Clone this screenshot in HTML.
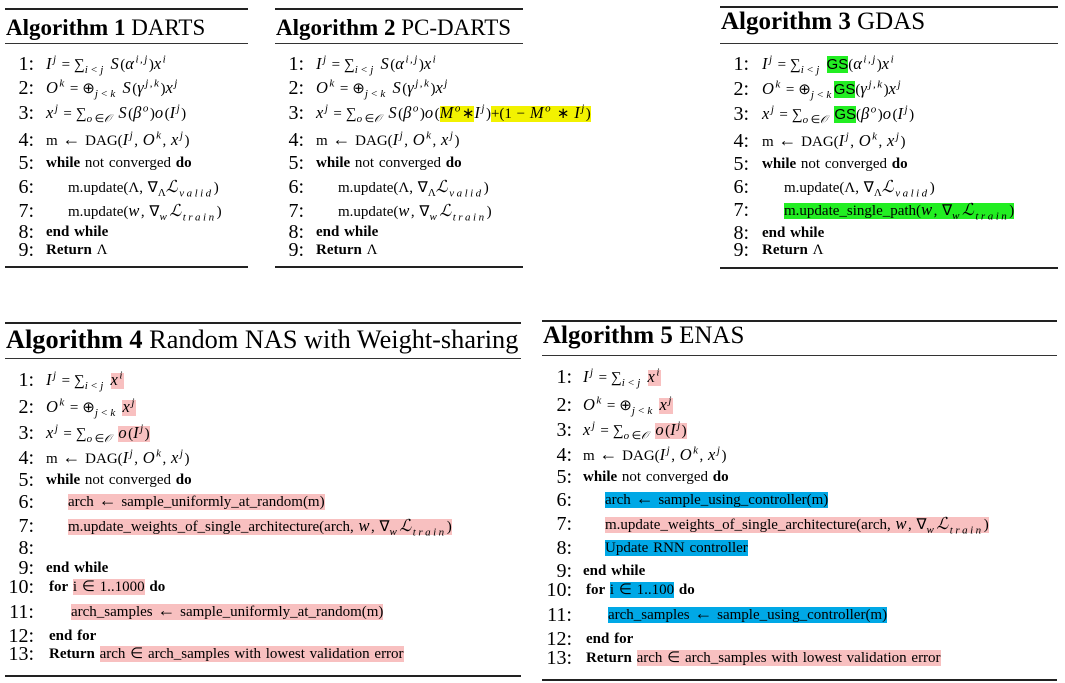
<!DOCTYPE html>
<html><head><meta charset="utf-8">
<style>
body{margin:0;width:1065px;height:683px;background:#fff;position:relative;overflow:hidden;font-family:"Liberation Serif",serif;color:#000}
.rule{position:absolute;height:0;border-top:2px solid #222}
.rule.thin{border-top:1px solid #333}
.title{position:absolute;font-size:23px;line-height:26px;white-space:nowrap}
.ln{position:absolute;font-size:15px;line-height:20px;white-space:nowrap;word-spacing:1px}
.num{position:absolute;font-size:20px;line-height:20px;text-align:right;width:34px}
i{font-style:italic;font-size:16.5px;letter-spacing:1.5px}
sub,sup{font-size:11px;line-height:0}
sub i,sup i{font-size:11px;letter-spacing:2.5px}
.ar{font-size:18px;line-height:0}
.eq{padding:0 4px}
.pk{background:#f8c0c0}.yl{background:#f2f200}.gr{background:#22ee22}.bl{background:#00a8e6}
</style></head><body>
<script>
const boxes=[
 {x:5,w:243,top:8,tt:28,r2:43,bot:266,title:'DARTS',tf:23,n:1,numX:0,txtX:46,ys:[64,88,113,140,163,187,211,232,250]},
 {x:275,w:248,top:8,tt:28,r2:43,bot:266,title:'PC-DARTS',tf:23,n:2,numX:270,txtX:316,ys:[64,88,113,140,163,187,211,232,250]},
 {x:720,w:338,top:6,tt:22,r2:43,bot:267,title:'GDAS',tf:25,n:3,numX:715,txtX:762,ys:[64,89,114,141,164,187,210,233,250]},
 {x:5,w:516,top:322,tt:340,r2:358,bot:675,title:'Random NAS with Weight-sharing',tf:26.3,n:4,numX:0,txtX:46,ys:[380,407,433,458,480,502,526,548,568,587,612,636,654]},
 {x:542,w:515,top:320,tt:336,r2:355,bot:679,title:'ENAS',tf:25,n:5,numX:538,txtX:583,ys:[377,405,430,455,477,500,524,548,571,590,615,639,658]}
];
const EQ='<span class="eq">=</span>';
const AR='<span class="ar">&larr;</span>';
const S='<i>I<sup>j</sup></i>'+EQ+'&sum;<sub><i>i&lt;j</i></sub> ';
const O='<i>O<sup>k</sup></i>'+EQ+'&oplus;<sub><i>j&lt;k</i></sub>';
const X='<i>x<sup>j</sup></i>'+EQ+'&sum;<sub><i>o</i>&isin;<i>&Oscr;</i></sub> ';
const DAG='m '+AR+' DAG(<i>I<sup>j</sup></i>, <i>O<sup>k</sup></i>, <i>x<sup>j</sup></i>)';
const WH='<b>while</b> not converged <b>do</b>';
const UV='m.update(&Lambda;, &nabla;<sub>&Lambda;</sub><i>&Lscr;<sub><i>valid</i></sub></i>)';
const UT='m.update(<i>w</i>, &nabla;<sub><i>w</i></sub><i>&Lscr;<sub><i>train</i></sub></i>)';
const UW='m.update_weights_of_single_architecture(arch, <i>w</i>, &nabla;<sub><i>w</i></sub><i>&Lscr;<sub><i>train</i></sub></i>)';
const GS='<span class="gr" style="font-family:Liberation Sans,sans-serif">GS</span>';
const lines=[
 [[0,S+'<i>S</i>(<i>&alpha;<sup>i,j</sup></i>)<i>x<sup>i</sup></i>'],[0,O+' <i>S</i>(<i>&gamma;<sup>j,k</sup></i>)<i>x<sup>j</sup></i>'],[0,X+'<i>S</i>(<i>&beta;<sup>o</sup></i>)<i>o</i>(<i>I<sup>j</sup></i>)'],[0,DAG],[0,WH],[1,UV],[1,UT],[0,'<b>end while</b>'],[0,'<b>Return</b> &Lambda;']],
 [[0,S+'<i>S</i>(<i>&alpha;<sup>i,j</sup></i>)<i>x<sup>i</sup></i>'],[0,O+' <i>S</i>(<i>&gamma;<sup>j,k</sup></i>)<i>x<sup>j</sup></i>'],[0,X+'<i>S</i>(<i>&beta;<sup>o</sup></i>)<i>o</i>(<span class="yl"><i>M<sup>o</sup></i>&lowast;</span><i>I<sup>j</sup></i>)<span class="yl">+(1 &minus; <i>M<sup>o</sup></i> &lowast; <i>I<sup>j</sup></i>)</span>'],[0,DAG],[0,WH],[1,UV],[1,UT],[0,'<b>end while</b>'],[0,'<b>Return</b> &Lambda;']],
 [[0,S+GS+'(<i>&alpha;<sup>i,j</sup></i>)<i>x<sup>i</sup></i>'],[0,O+GS+'(<i>&gamma;<sup>j,k</sup></i>)<i>x<sup>j</sup></i>'],[0,X+GS+'(<i>&beta;<sup>o</sup></i>)<i>o</i>(<i>I<sup>j</sup></i>)'],[0,DAG],[0,WH],[1,UV],[1,'<span class="gr">m.update_single_path(<i>w</i>, &nabla;<sub><i>w</i></sub><i>&Lscr;<sub><i>train</i></sub></i>)</span>'],[0,'<b>end while</b>'],[0,'<b>Return</b> &Lambda;']],
 [[0,S+'<span class="pk"><i>x<sup>i</sup></i></span>'],[0,O+' <span class="pk"><i>x<sup>j</sup></i></span>'],[0,X+'<span class="pk"><i>o</i>(<i>I<sup>j</sup></i>)</span>'],[0,DAG],[0,WH],[1,'<span class="pk">arch '+AR+' sample_uniformly_at_random(m)</span>'],[1,'<span class="pk">'+UW+'</span>'],[1,''],[0,'<b>end while</b>'],[0,'<b>for</b> <span class="pk">i &isin; 1..1000</span> <b>do</b>'],[1,'<span class="pk">arch_samples '+AR+' sample_uniformly_at_random(m)</span>'],[0,'<b>end for</b>'],[0,'<b>Return</b> <span class="pk">arch &isin; arch_samples with lowest validation error</span>']],
 [[0,S+'<span class="pk"><i>x<sup>i</sup></i></span>'],[0,O+' <span class="pk"><i>x<sup>j</sup></i></span>'],[0,X+'<span class="pk"><i>o</i>(<i>I<sup>j</sup></i>)</span>'],[0,DAG],[0,WH],[1,'<span class="bl">arch '+AR+' sample_using_controller(m)</span>'],[1,'<span class="pk">'+UW+'</span>'],[1,'<span class="bl">Update RNN controller</span>'],[0,'<b>end while</b>'],[0,'<b>for</b> <span class="bl">i &isin; 1..100</span> <b>do</b>'],[1,'<span class="bl">arch_samples '+AR+' sample_using_controller(m)</span>'],[0,'<b>end for</b>'],[0,'<b>Return</b> <span class="pk">arch &isin; arch_samples with lowest validation error</span>']]
];
boxes.forEach((b,bi)=>{
 const box=document.createElement('div');
 
 
 document.body.appendChild(box);
 [[b.top,''],[b.r2,'thin'],[b.bot,'']].forEach((r,ri)=>{
  const d=document.createElement('div');
  d.className='rule '+r[1];
  d.style.cssText='left:'+b.x+'px;width:'+b.w+'px;top:'+r[0]+'px';
  
  
  box.appendChild(d);
 });
 const t=document.createElement('div');
 t.className='title';
 t.style.left=(b.x+1)+'px';t.style.top=(b.tt-13)+'px';t.style.fontSize=b.tf+'px';
 t.innerHTML='<b>Algorithm '+b.n+'</b> '+b.title;
 
 
 box.appendChild(t);
 lines[bi].forEach((l,i)=>{
  const y=b.ys[i];
  const n=document.createElement('div');
  n.className='num';
  n.style.left=b.numX+'px';n.style.top=(y-10)+'px';
  n.textContent=(i+1)+':';
  
  
  box.appendChild(n);
  const d=document.createElement('div');
  d.className='ln';
  d.style.left=(b.txtX+(l[0]?22:0)+(i>=9?3:0))+'px';d.style.top=(y-10)+'px';
  d.innerHTML=l[1];
  
  
  box.appendChild(d);
 });
});
</script>
</body></html>
